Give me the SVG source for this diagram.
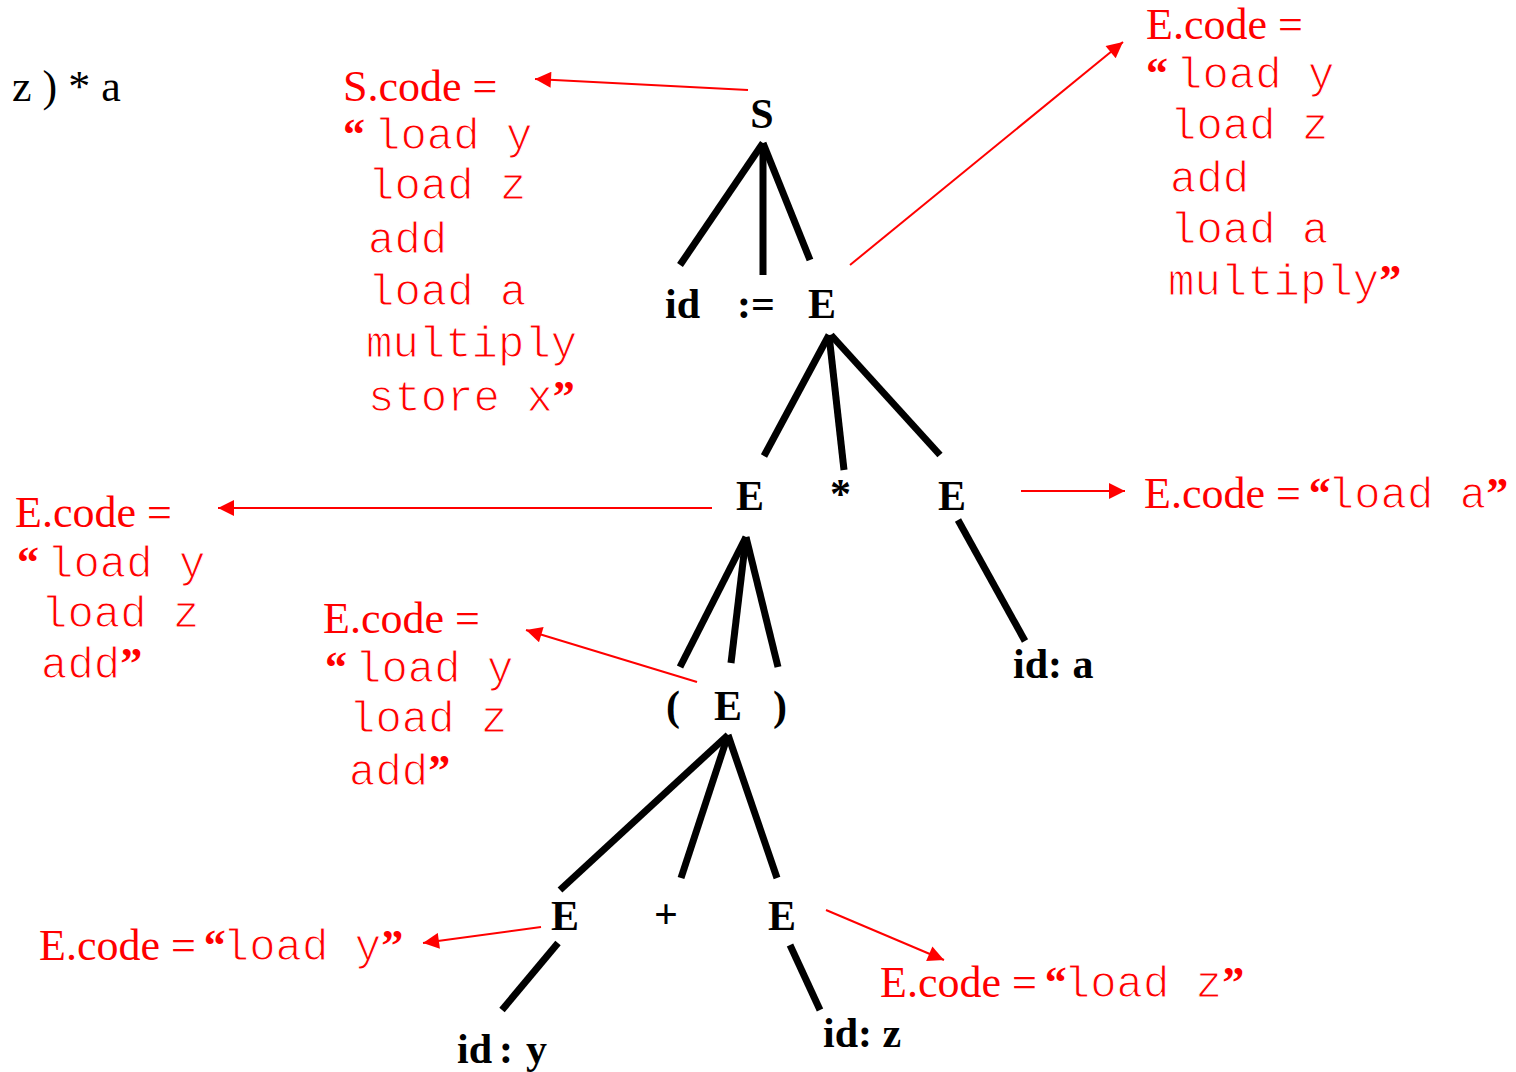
<svg xmlns="http://www.w3.org/2000/svg" width="1516" height="1072" viewBox="0 0 1516 1072">
  <style>
    .sym { font-family: "Liberation Serif", "Times New Roman", serif; font-weight: bold; font-size: 42px; fill: #000; }
    .plain { font-family: "Liberation Serif", "Times New Roman", serif; font-size: 44px; fill: #000; }
    .lab { font-family: "Liberation Serif", "Times New Roman", serif; font-size: 44px; fill: #ff0000; stroke: none; }
    .q { font-family: "Liberation Serif", "Times New Roman", serif; font-weight: bold; font-size: 44px; fill: #ff0000; stroke: none; }
    .mono { font-family: "Liberation Mono", "Courier New", monospace; font-size: 44px; fill: #ff0000; stroke: #fff; stroke-width: 1.1px; }
    .edge { stroke: #000; stroke-width: 7; fill: none; }
    .ptr { stroke: #ff0000; stroke-width: 2; fill: none; marker-end: url(#head); }
  </style>
  <defs>
    <marker id="head" viewBox="0 0 10 10" refX="10" refY="5" markerUnits="userSpaceOnUse" markerWidth="20" markerHeight="16" orient="auto">
      <path d="M0,0 L10,5 L0,10 Z" fill="#ff0000"/>
    </marker>
  </defs>
  <rect width="1516" height="1072" fill="#fff"/>

  <!-- tail of the source expression -->
  <text class="plain" x="12" y="101">z ) * a</text>

  <!-- parse tree edges -->
  <g id="tree-edges">
    <line class="edge" x1="763" y1="143" x2="680" y2="265"/>
    <line class="edge" x1="763" y1="143" x2="763" y2="275"/>
    <line class="edge" x1="763" y1="143" x2="810" y2="260"/>
    <line class="edge" x1="829" y1="335" x2="764" y2="456"/>
    <line class="edge" x1="829" y1="335" x2="844" y2="470"/>
    <line class="edge" x1="831" y1="335" x2="940" y2="455"/>
    <line class="edge" x1="746" y1="537" x2="680" y2="667"/>
    <line class="edge" x1="746" y1="537" x2="731" y2="663"/>
    <line class="edge" x1="746" y1="537" x2="778" y2="667"/>
    <line class="edge" x1="958" y1="520" x2="1025" y2="641"/>
    <line class="edge" x1="728" y1="735" x2="560" y2="890"/>
    <line class="edge" x1="728" y1="735" x2="681" y2="878"/>
    <line class="edge" x1="728" y1="735" x2="777" y2="878"/>
    <line class="edge" x1="558" y1="943" x2="502" y2="1010"/>
    <line class="edge" x1="790" y1="945" x2="820" y2="1010"/>
  </g>

  <!-- attribute pointers -->
  <g id="pointers">
    <line class="ptr" x1="748" y1="90" x2="535" y2="79"/>
    <line class="ptr" x1="850" y1="265" x2="1123" y2="42"/>
    <line class="ptr" x1="712" y1="508" x2="218" y2="508"/>
    <line class="ptr" x1="1021" y1="491" x2="1125" y2="491"/>
    <line class="ptr" x1="697" y1="682" x2="526" y2="630"/>
    <line class="ptr" x1="541" y1="927" x2="423" y2="943"/>
    <line class="ptr" x1="826" y1="910" x2="944" y2="960"/>
  </g>

  <!-- grammar symbols -->
  <g id="n-S"><text class="sym" x="762" y="128" text-anchor="middle">S</text></g>
  <g id="n-id"><text class="sym" x="665" y="318">id</text></g>
  <g id="n-assign"><text class="sym" x="737" y="318">:=</text></g>
  <g id="n-E1"><text class="sym" x="808" y="318">E</text></g>
  <g id="n-E2"><text class="sym" x="736" y="510">E</text></g>
  <g id="n-times"><text class="sym" x="830" y="508">*</text></g>
  <g id="n-E3"><text class="sym" x="938" y="510">E</text></g>
  <g id="n-ida"><text class="sym" x="1013" y="678">id: a</text></g>
  <g id="n-lpar"><text class="sym" x="666" y="720">(</text></g>
  <g id="n-E4"><text class="sym" x="714" y="720">E</text></g>
  <g id="n-rpar"><text class="sym" x="773" y="720">)</text></g>
  <g id="n-E5"><text class="sym" x="551" y="930">E</text></g>
  <g id="n-plus"><text class="sym" x="654" y="928">+</text></g>
  <g id="n-E6"><text class="sym" x="768" y="930">E</text></g>
  <g id="n-idy"><text class="sym" x="457" y="1063">id<tspan dx="7">:</tspan><tspan dx="13">y</tspan></text></g>
  <g id="n-idz"><text class="sym" x="823" y="1047">id: z</text></g>

  <!-- S.code -->
  <g id="code-S">
    <text class="lab" x="343" y="101">S.code =</text>
    <text class="q" x="343" y="149">“</text>
    <text class="mono" x="374" y="149">load y</text>
    <text class="mono" x="368" y="199">load z</text>
    <text class="mono" x="368" y="253">add</text>
    <text class="mono" x="368" y="305">load a</text>
    <text class="mono" x="366" y="357">multiply</text>
    <text class="mono" x="368" y="411">store x<tspan class="q">”</tspan></text>
  </g>

  <!-- E.code for the right-hand side of the assignment -->
  <g id="code-E1">
    <text class="lab" x="1146" y="39">E.code =</text>
    <text class="q" x="1146" y="88">“</text>
    <text class="mono" x="1176" y="88">load y</text>
    <text class="mono" x="1170" y="139">load z</text>
    <text class="mono" x="1170" y="192">add</text>
    <text class="mono" x="1170" y="243">load a</text>
    <text class="mono" x="1168" y="295">multiply<tspan class="q">”</tspan></text>
  </g>

  <!-- E.code for the parenthesised operand -->
  <g id="code-E2">
    <text class="lab" x="15" y="527">E.code =</text>
    <text class="q" x="17" y="577">“</text>
    <text class="mono" x="47" y="577">load y</text>
    <text class="mono" x="41" y="627">load z</text>
    <text class="mono" x="41" y="678">add<tspan class="q">”</tspan></text>
  </g>

  <!-- E.code for the inner sum -->
  <g id="code-E4">
    <text class="lab" x="323" y="633">E.code =</text>
    <text class="q" x="325" y="682">“</text>
    <text class="mono" x="355" y="682">load y</text>
    <text class="mono" x="349" y="732">load z</text>
    <text class="mono" x="349" y="785">add<tspan class="q">”</tspan></text>
  </g>

  <!-- leaf E.code values -->
  <g id="code-E3"><text class="lab" x="1144" y="508">E.code = <tspan class="q" dx="-3">“</tspan><tspan class="mono" dx="-3">load a</tspan><tspan class="q">”</tspan></text></g>
  <g id="code-E5"><text class="lab" x="39" y="960">E.code = <tspan class="q" dx="-3">“</tspan><tspan class="mono" dx="-3">load y</tspan><tspan class="q">”</tspan></text></g>
  <g id="code-E6"><text class="lab" x="880" y="997">E.code = <tspan class="q" dx="-3">“</tspan><tspan class="mono" dx="-3">load z</tspan><tspan class="q">”</tspan></text></g>
</svg>
